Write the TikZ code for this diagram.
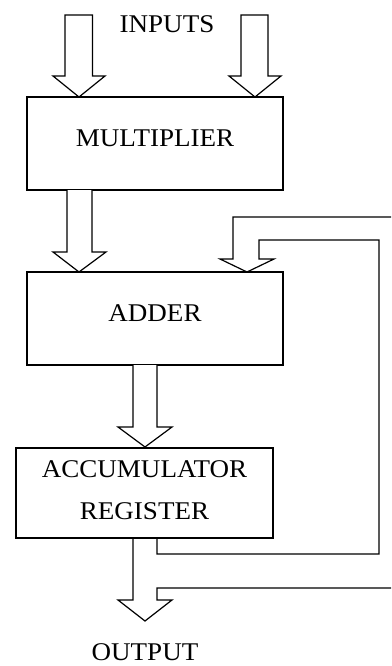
\documentclass[tikz,border=0pt]{standalone}
\usepackage{fontspec}
\setmainfont{Liberation Serif}[FakeStretch=1.06]
\begin{document}
\begin{tikzpicture}[x=1pt,y=-1pt,
  every node/.style={font=\fontsize{25.5}{42}\selectfont, inner sep=0pt},
  blockbox/.style={draw, line width=1.2pt, minimum width=#1, align=center},
  hollow/.style={draw, line width=1.2pt, line join=miter, fill=white},
  wire/.style={draw, line width=1.2pt, line join=miter}]
\useasboundingbox (0,0) rectangle (391,666);
\clip (0,0) rectangle (391,666);

% processing blocks
\node[blockbox=256pt, minimum height=93pt, text depth=11pt] (mult) at (155,143.5) {MULTIPLIER};
\node[blockbox=256pt, minimum height=93pt, text depth=11pt] (adder) at (155,318.5) {ADDER};
\node[blockbox=257pt, minimum height=90pt, text depth=6pt] (acc) at (144.5,493) {ACCUMULATOR\\REGISTER};

% labels
\node (inputs) at (167,24) {INPUTS};
\node (output) at (145,652) {OUTPUT};

% input arrows into the multiplier
\draw[hollow] (65,15) -- (65,76) -- (53,76) -- (79,97) -- (105,76) -- (92.5,76) -- (92.5,15) -- cycle;
\draw[hollow] (241,15) -- (241,76) -- (229,76) -- (255,97) -- (281,76) -- (268,76) -- (268,15) -- cycle;

% multiplier to adder
\draw[hollow] (67,190) -- (67,252) -- (53,252) -- (79,272) -- (106,252) -- (92,252) -- (92,190);

% adder to accumulator register
\draw[hollow] (133,365) -- (133,427) -- (118,427) -- (145,447) -- (172,427) -- (157,427) -- (157,365);

% feedback bus from the register output back into the adder
\draw[wire] (157,538) -- (157,554) -- (379,554) -- (379,240) -- (259,240) -- (259,259)
  -- (274,259) -- (247,272) -- (220,259) -- (233,259) -- (233,217) -- (394,217) -- (394,588)
  -- (157,588) -- (157,600) -- (172,600) -- (145,621) -- (118,600) -- (133,600) -- (133,538);
\end{tikzpicture}
\end{document}
